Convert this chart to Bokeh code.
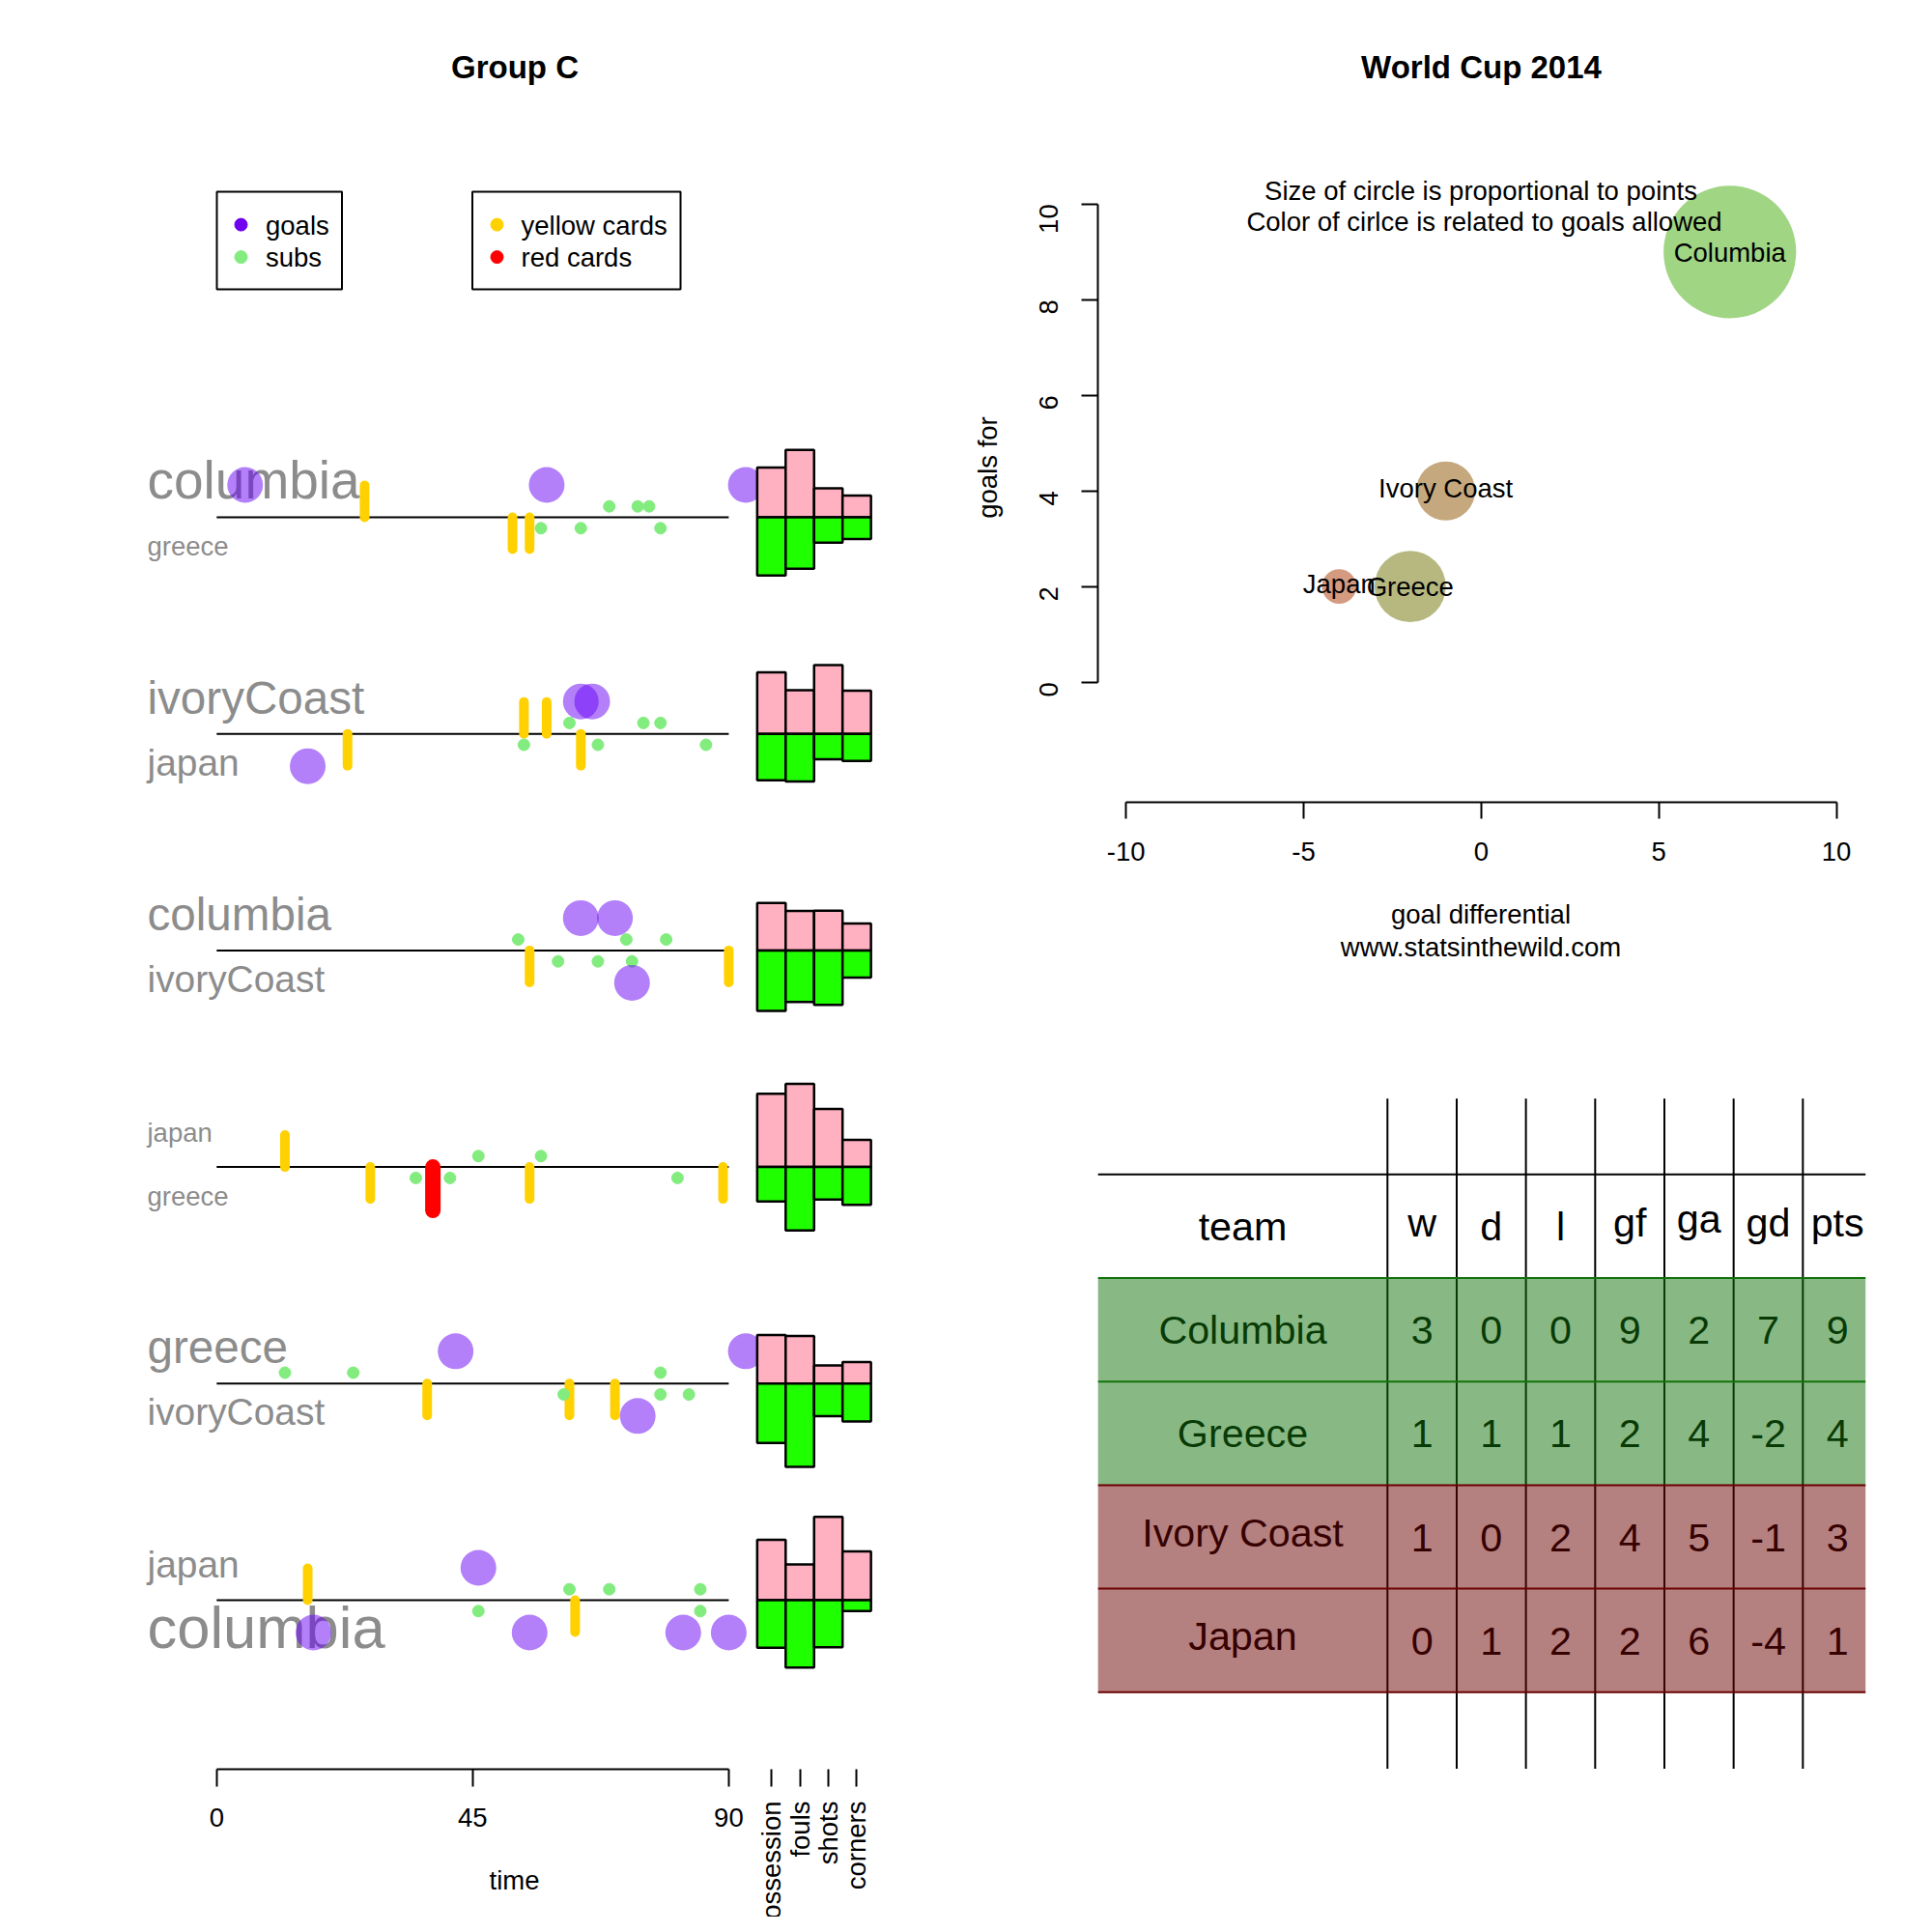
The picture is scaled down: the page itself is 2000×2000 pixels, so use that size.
import math
from bokeh.plotting import figure
from bokeh.models import Range1d, LinearAxis, FixedTicker, ColumnDataSource, CustomJSTickFormatter
from bokeh.layouts import row, column
from bokeh.embed import file_html
from bokeh.resources import INLINE
from bokeh.core.properties import value

# ---------------- data ----------------
matches_top = ["columbia", "ivoryCoast", "columbia", "japan", "greece", "japan"]
matches_bottom = ["greece", "japan", "ivoryCoast", "greece", "ivoryCoast", "columbia"]

top_goals = [[5, 58, 93], [64, 66], [64, 70], [], [42, 93], [46]]
bottom_goals = [[], [16], [73], [], [74], [17, 55, 82, 90]]
top_yellow = [[26], [54, 58], [], [12], [], [16]]
bottom_yellow = [[52, 55], [23, 64], [55, 90], [27, 55, 89], [37, 62, 70], [63]]
top_red = [[], [], [], [], [], []]
bottom_red = [[], [], [], [38], [], []]
top_subs = [[69, 74, 76], [62, 75, 78], [53, 72, 79], [46, 57], [12, 24, 78], [62, 69, 85]]
bottom_subs = [[57, 64, 78], [54, 67, 86], [60, 67, 73], [35, 41, 81], [61, 78, 83], [46, 85]]

stat_names = ["possession", "fouls", "shots", "corners"]
top_possession = [46, 57, 44, 68, 45, 56]
bottom_possession = [54, 43, 56, 32, 55, 44]
top_fouls = [17, 11, 10, 21, 12, 9]
bottom_fouls = [13, 12, 13, 16, 21, 17]
top_shots = [8, 19, 11, 16, 5, 23]
bottom_shots = [7, 7, 15, 9, 9, 13]
top_corners = [4, 8, 5, 5, 4, 9]
bottom_corners = [4, 5, 5, 7, 7, 2]

time_ticks = [0, 45, 90]
legend1_labels = ["goals", "subs"]
legend2_labels = ["yellow cards", "red cards"]

teams = ["Columbia", "Greece", "Ivory Coast", "Japan"]
wins = [3, 1, 1, 0]
draws = [0, 1, 0, 1]
losses = [0, 1, 2, 2]
goals_for = [9, 2, 4, 2]
goals_against = [2, 4, 5, 6]
goal_diff = [7, -2, -1, -4]
points = [9, 4, 3, 1]
table_header = ["team", "w", "d", "l", "gf", "ga", "gd", "pts"]

sc_xticks = [-10, -5, 0, 5, 10]
sc_yticks = [0, 2, 4, 6, 8, 10]

# ---------------- styles ----------------
FONT = "Liberation Sans"
FS = 27.5
GOAL_C = "#6701F5"
GOAL_LEG = "#7000F0"
SUB_C = "#82EC7F"
YEL_C = "#FFD100"
RED_C = "#FF0000"
PINK = "#FFB1C1"
GREEN = "#20FF00"
GRAY = "#8C8C8C"
team_colors = ["#A0D583", "#B6B880", "#C5A87E", "#D49B80"]
MID = 0.3465  # em distance from alphabetic baseline to "middle" anchor


def v_off(s, size):
    asc = 0.72 if any(c.isupper() or c.isdigit() or c in "bdfhiklt" for c in s) else 0.52
    desc = 0.21 if any(c in "gjpqy" for c in s) else 0.0
    return (asc - desc) / 2 * size


def mid(baseline_px, size):
    return baseline_px - MID * size


TOTAL = 1984
# ================= left panel =================
X0, SX = 223.8, 5.89
def lx(px):
    return (px - X0) / SX

LW, H = 988, TOTAL
ROW0, PITCH = 535.0, 224.2
AXIS_Y = 1831.0

left = figure(width=LW, height=H, x_range=Range1d(lx(0), lx(LW)), y_range=Range1d(H, 0),
              x_axis_type=None, y_axis_type=None, output_backend="svg", toolbar_location=None,
              min_border=0, outline_line_color=None)

nrow = len(matches_top)
bases = [ROW0 + i * PITCH for i in range(nrow)]

left.text(x=[lx(532.5)], y=[mid(80, 33)], text=["Group C"], text_font=value(FONT), text_font_size="33px",
          text_font_style="bold", text_align="center", text_baseline="middle", text_color="black")

# legends
left.quad(left=[lx(224), lx(488.5)], right=[lx(353.5), lx(704)], top=[198, 198], bottom=[299, 299],
          fill_color=None, line_color="black", line_width=2)
leg_rows = [232.1, 265.6]
left.scatter(x=[lx(249)] * 2 + [lx(514)] * 2, y=leg_rows * 2, size=13,
             color=[GOAL_LEG, SUB_C, YEL_C, RED_C])
left.text(x=[lx(274.5)] * 2 + [lx(539)] * 2, y=[mid(r + 10, FS) for r in leg_rows] * 2,
          text=legend1_labels + legend2_labels, text_font=value(FONT), text_font_size="27.5px",
          text_align="left", text_baseline="middle", text_color="black")

# team labels
lab_x, lab_y, lab_t, lab_fs = [], [], [], []
for i in range(nrow):
    st = FS * math.sqrt(len(top_goals[i]) + 1)
    sb = FS * math.sqrt(len(bottom_goals[i]) + 1)
    lab_x += [lx(152), lx(152)]
    lab_y += [mid(bases[i] - 32.7 + 0.244 * st, st), mid(bases[i] + 32.5 + 0.27 * sb, sb)]
    lab_t += [matches_top[i], matches_bottom[i]]
    lab_fs += ["%.1fpx" % st, "%.1fpx" % sb]
left.text(x="x", y="y", text="t", text_font_size="fs",
          source=ColumnDataSource(dict(x=lab_x, y=lab_y, t=lab_t, fs=lab_fs)),
          text_font=value(FONT), text_color=GRAY, text_align="left", text_baseline="middle")

# time lines
left.segment(x0=[time_ticks[0]] * nrow, x1=[time_ticks[-1]] * nrow, y0=bases, y1=bases,
             line_color="black", line_width=2)

def events(top_list, bot_list, off):
    xs, ys = [], []
    for i in range(nrow):
        for m in top_list[i]:
            xs.append(m); ys.append(bases[i] - off)
        for m in bot_list[i]:
            xs.append(m); ys.append(bases[i] + off)
    return xs, ys

def cards(top_list, bot_list, length):
    xs, y0, y1 = [], [], []
    for i in range(nrow):
        for m in top_list[i]:
            xs.append(m); y0.append(bases[i]); y1.append(bases[i] - length)
        for m in bot_list[i]:
            xs.append(m); y0.append(bases[i]); y1.append(bases[i] + length)
    return xs, y0, y1

yx, yy0, yy1 = cards(top_yellow, bottom_yellow, 33)
left.segment(x0=yx, x1=yx, y0=yy0, y1=yy1, line_color=YEL_C, line_width=10, line_cap="round")
rx, ry0, ry1 = cards(top_red, bottom_red, 45)
left.segment(x0=rx, x1=rx, y0=ry0, y1=ry1, line_color=RED_C, line_width=16, line_cap="round")

sx_, sy_ = events(top_subs, bottom_subs, 11.3)
left.scatter(x=sx_, y=sy_, size=12, color=SUB_C)
gx, gy = events(top_goals, bottom_goals, 33.5)
left.scatter(x=gx, y=gy, size=37, fill_color=GOAL_C, fill_alpha=0.5, line_color=None)

# stat bars
stat_top = [top_possession, top_fouls, top_shots, top_corners]
stat_bot = [bottom_possession, bottom_fouls, bottom_shots, bottom_corners]
stat_scale = [1.117, 4.1, 3.75, 5.6]
BAR0, BARW = 95, 5
bl, br, btop, bbot, bcol = [], [], [], [], []
for i in range(nrow):
    for k in range(len(stat_names)):
        l0 = BAR0 + BARW * k
        bl += [l0, l0]; br += [l0 + BARW, l0 + BARW]
        btop += [bases[i] - stat_top[k][i] * stat_scale[k], bases[i]]
        bbot += [bases[i], bases[i] + stat_bot[k][i] * stat_scale[k]]
        bcol += [PINK, GREEN]
left.quad(left=bl, right=br, top=btop, bottom=bbot, fill_color=bcol, line_color="black", line_width=2.5)

# axes
tax = LinearAxis(fixed_location=AXIS_Y, ticker=FixedTicker(ticks=time_ticks),
                 bounds=(time_ticks[0], time_ticks[-1]), axis_line_width=2, axis_line_color="black",
                 major_tick_line_width=2, major_tick_out=18, major_tick_in=0, minor_tick_line_color=None,
                 major_label_text_font_size="27.5px", major_label_text_font=FONT,
                 major_label_text_color="black", major_label_standoff=22)
left.add_layout(tax, "below")
stat_centers = [BAR0 + BARW * k + BARW / 2 for k in range(len(stat_names))]
sax = LinearAxis(fixed_location=AXIS_Y, ticker=FixedTicker(ticks=stat_centers), axis_line_color=None,
                 major_tick_line_width=2, major_tick_out=18, major_tick_in=0, minor_tick_line_color=None,
                 formatter=CustomJSTickFormatter(args=dict(names=stat_names), code="return names[index];"),
                 major_label_orientation=math.pi / 2, major_label_text_font_size="27.5px",
                 major_label_text_font=FONT, major_label_text_color="black", major_label_standoff=15)
left.add_layout(sax, "below")
left.text(x=[lx(532)], y=[mid(1956, FS)], text=["time"], text_font=value(FONT), text_font_size="27.5px",
          text_align="center", text_baseline="middle", text_color="black")

# ================= scatter (top right) =================
RW = TOTAL - LW
SH = 1060
SCX0, SCSX = 1532.85, 36.77
SCY0, SCSY = 705.6, 49.48
def scx(px):
    return (px - SCX0) / SCSX
def scy(py):
    return (SCY0 - py) / SCSY

sc = figure(width=RW, height=SH, x_range=Range1d(scx(LW), scx(TOTAL)), y_range=Range1d(scy(SH), scy(0)),
            x_axis_type=None, y_axis_type=None, output_backend="svg", toolbar_location=None,
            min_border=0, outline_line_color=None)

sizes = [2 * (11.56 + 6.34 * p) for p in points]
sc.scatter(x=goal_diff, y=goals_for, size=sizes, fill_color=team_colors, line_color=None)
sc.text(x=goal_diff, y=[g - (v_off(t, FS) - MID * FS) / SCSY for g, t in zip(goals_for, teams)], text=teams,
        text_font=value(FONT), text_font_size="27.5px", text_align="center", text_baseline="middle",
        text_color="black")

sc.text(x=[scx(1533)], y=[scy(mid(80, 33))], text=["World Cup 2014"], text_font=value(FONT),
        text_font_size="33px", text_font_style="bold", text_align="center", text_baseline="middle",
        text_color="black")
sc.text(x=[scx(1532.5), scx(1536)], y=[scy(mid(206.2, FS)), scy(mid(238.9, FS))],
        text=["Size of circle is proportional to points", "Color of cirlce is related to goals allowed"],
        text_font=value(FONT), text_font_size="27.5px", text_align="center", text_baseline="middle",
        text_color="black")
sc.text(x=[scx(1532.5), scx(1532.5)], y=[scy(mid(955.5, FS)), scy(mid(989.5, FS))],
        text=["goal differential", "www.statsinthewild.com"],
        text_font=value(FONT), text_font_size="27.5px", text_align="center", text_baseline="middle",
        text_color="black")
sc.text(x=[scx(1022.3)], y=[scy(483.5)], text=["goals for"], angle=math.pi / 2,
        text_font=value(FONT), text_font_size="27.5px", text_align="center", text_baseline="middle",
        text_color="black")

plain = CustomJSTickFormatter(code="return tick.toFixed(0);")
xax = LinearAxis(fixed_location=scy(830.2), ticker=FixedTicker(ticks=sc_xticks), formatter=plain,
                 bounds=(sc_xticks[0], sc_xticks[-1]), axis_line_width=2, major_tick_line_width=2,
                 major_tick_out=17, major_tick_in=0, minor_tick_line_color=None,
                 major_label_text_font_size="27.5px", major_label_text_font=FONT,
                 major_label_text_color="black", major_label_standoff=24)
sc.add_layout(xax, "below")
yax = LinearAxis(fixed_location=scx(1135.8), ticker=FixedTicker(ticks=sc_yticks),
                 formatter=CustomJSTickFormatter(code="return tick.toFixed(0);"),
                 bounds=(sc_yticks[0], sc_yticks[-1]), axis_line_width=2, major_tick_line_width=2,
                 major_tick_out=17, major_tick_in=0, minor_tick_line_color=None,
                 major_label_orientation=math.pi / 2,
                 major_label_text_font_size="27.5px", major_label_text_font=FONT,
                 major_label_text_color="black", major_label_standoff=34)
sc.add_layout(yax, "left")

# ================= table (bottom right) =================
TH = TOTAL - SH
TX0, TSX = 1435.8, 71.67
TY0, TSY = 1215.3, 107.2
def tx(px):
    return (px - TX0) / TSX
def ty(py):
    return (py - TY0) / TSY

tb = figure(width=RW, height=TH, x_range=Range1d(tx(LW), tx(TOTAL)), y_range=Range1d(ty(TOTAL), ty(SH)),
            x_axis_type=None, y_axis_type=None, output_backend="svg", toolbar_location=None,
            min_border=0, outline_line_color=None)

ncol = len(table_header) - 1
T_LEFT, T_RIGHT = tx(1136.2), tx(1930.7)
V_TOP, V_BOT = ty(1136.7), ty(1830.6)
vx = list(range(ncol))
tb.segment(x0=vx, x1=vx, y0=[V_TOP] * ncol, y1=[V_BOT] * ncol, line_color="black", line_width=2)
tb.segment(x0=[T_LEFT], x1=[T_RIGHT], y0=[0], y1=[0], line_color="black", line_width=2)

TFS = 41.25
cols = [wins, draws, losses, goals_for, goals_against, goal_diff, points]
txt_x, txt_y, txt_t = [], [], []
centers_x = [T_LEFT / 2] + [j + 0.5 for j in range(ncol)]
for j, h in enumerate(table_header):
    txt_x.append(centers_x[j]); txt_y.append(0.5 + (v_off(h, TFS) - MID * TFS) / TSY); txt_t.append(h)
for r in range(len(teams)):
    cells = [teams[r]] + [str(c[r]) for c in cols]
    for j, s in enumerate(cells):
        txt_x.append(centers_x[j]); txt_y.append(r + 1.5 + (v_off(s, TFS) - MID * TFS) / TSY); txt_t.append(s)
tb.text(x=txt_x, y=txt_y, text=txt_t, text_font=value(FONT), text_font_size="41.25px",
        text_align="center", text_baseline="middle", text_color="black")

row_fill = ["#11730B", "#11730B", "#6B0101", "#6B0101"]
nt = len(teams)
tb.quad(left=[T_LEFT] * nt, right=[T_RIGHT] * nt, top=[r + 1 for r in range(nt)],
        bottom=[r + 2 for r in range(nt)], fill_color=row_fill, fill_alpha=0.5, line_color=None)
hl_y = [1, 2, 3, 4, 5]
hl_c = [row_fill[0], row_fill[1], row_fill[2], row_fill[3], row_fill[3]]
tb.segment(x0=[T_LEFT] * 5, x1=[T_RIGHT] * 5, y0=hl_y, y1=hl_y, line_color=hl_c, line_width=2)

layout = row(left, column(sc, tb))
open("out.html", "w").write(file_html(layout, INLINE))
